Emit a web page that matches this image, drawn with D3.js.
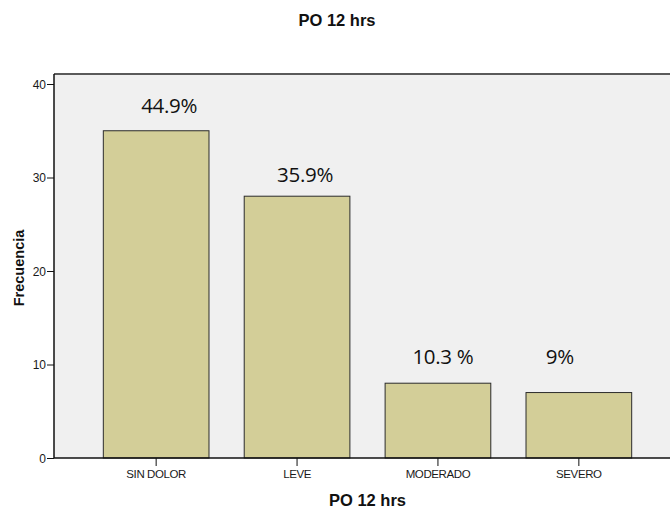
<!DOCTYPE html>
<html>
<head>
<meta charset="utf-8">
<script src="https://cdn.jsdelivr.net/npm/d3@7"></script>
<style>
  html, body { margin: 0; padding: 0; background: #ffffff; }
  svg { display: block; }
  .tick text { font-family: "Liberation Sans", Arial, sans-serif; fill: #1a1a1a; }
</style>
</head>
<body>
<svg id="chart" width="670" height="513"></svg>
<script>
// Pain level after 12 hours post-op: counts per category
const categories = ["SIN DOLOR", "LEVE", "MODERADO", "SEVERO"];
const frequencies = [35, 28, 8, 7];
const percentLabels = ["44.9%", "35.9%", "10.3 %", "9%"];
const yTicks = [0, 10, 20, 30, 40];

const chartTitle = "PO 12 hrs";
const xTitle = "PO 12 hrs";
const yTitle = "Frecuencia";

const svg = d3.select("#chart");

// plot frame
const frame = { left: 54, top: 74, bottom: 458, right: 681 };

const x = d3.scaleBand()
  .domain(categories)
  .range([frame.left, frame.right])
  .paddingInner(0.25)
  .paddingOuter(0.35);

const y = d3.scaleLinear()
  .domain([0, 40])
  .range([frame.bottom, 84]);

// plot background
svg.append("rect")
  .attr("x", frame.left)
  .attr("y", frame.top)
  .attr("width", frame.right - frame.left)
  .attr("height", frame.bottom - frame.top)
  .attr("fill", "#f0f0f0");

// top border of the frame
svg.append("line")
  .attr("x1", frame.left).attr("x2", frame.right)
  .attr("y1", frame.top).attr("y2", frame.top)
  .attr("stroke", "#5a5a5a").attr("stroke-width", 2);

// bars
svg.append("g")
  .selectAll("rect")
  .data(frequencies)
  .join("rect")
  .attr("x", (d, i) => x(categories[i]))
  .attr("y", d => y(d))
  .attr("width", x.bandwidth())
  .attr("height", d => y(0) - y(d))
  .attr("fill", "#d3ce98")
  .attr("stroke", "#2b2b2b")
  .attr("stroke-width", 1);

// percentage annotations, nudged by hand around each bar top
const nudge = [[13, 17.5], [8, 14.5], [5, 19], [-19, 28.5]];
svg.append("g")
  .selectAll("text")
  .data(frequencies)
  .join("text")
  .attr("x", (d, i) => x(categories[i]) + x.bandwidth() / 2 + nudge[i][0])
  .attr("y", (d, i) => y(d) - nudge[i][1])
  .attr("text-anchor", "middle")
  .attr("font-family", "'Open Sans', sans-serif")
  .attr("font-size", 20.5)
  .attr("letter-spacing", "-0.3px")
  .attr("fill", "#111")
  .text((d, i) => percentLabels[i]);

// y axis
const yAxis = svg.append("g")
  .attr("transform", `translate(${frame.left},0)`)
  .call(d3.axisLeft(y).tickValues(yTicks).tickSize(7).tickPadding(1));
yAxis.select(".domain")
  .attr("d", `M0,${frame.top}V${frame.bottom}`)
  .attr("stroke", "#111").attr("stroke-width", 1.5);
yAxis.selectAll(".tick line").attr("stroke", "#111");
yAxis.selectAll(".tick text").attr("font-size", 12).attr("dy", "0.34em");

// x axis
const xAxis = svg.append("g")
  .attr("transform", `translate(0,${frame.bottom})`)
  .call(d3.axisBottom(x).tickSize(8).tickPadding(4));
xAxis.select(".domain")
  .attr("d", `M${frame.left},0H${frame.right}`)
  .attr("stroke", "#111").attr("stroke-width", 1.5);
xAxis.selectAll(".tick line").attr("stroke", "#111");
xAxis.selectAll(".tick text")
  .attr("font-size", 11.5)
  .attr("letter-spacing", "-0.4px");

// titles
svg.append("text")
  .attr("x", 337).attr("y", 26)
  .attr("text-anchor", "middle")
  .attr("font-family", "'Liberation Sans', Arial, sans-serif")
  .attr("font-weight", "bold").attr("font-size", 16.5)
  .attr("fill", "#111")
  .text(chartTitle);

svg.append("text")
  .attr("x", (frame.left + frame.right) / 2).attr("y", 506)
  .attr("text-anchor", "middle")
  .attr("font-family", "'Liberation Sans', Arial, sans-serif")
  .attr("font-weight", "bold").attr("font-size", 16.5)
  .attr("fill", "#111")
  .text(xTitle);

svg.append("text")
  .attr("transform", "translate(24,268) rotate(-90)")
  .attr("text-anchor", "middle")
  .attr("font-family", "'Liberation Sans', Arial, sans-serif")
  .attr("font-weight", "bold").attr("font-size", 14.5)
  .attr("fill", "#111")
  .text(yTitle);
</script>
</body>
</html>
